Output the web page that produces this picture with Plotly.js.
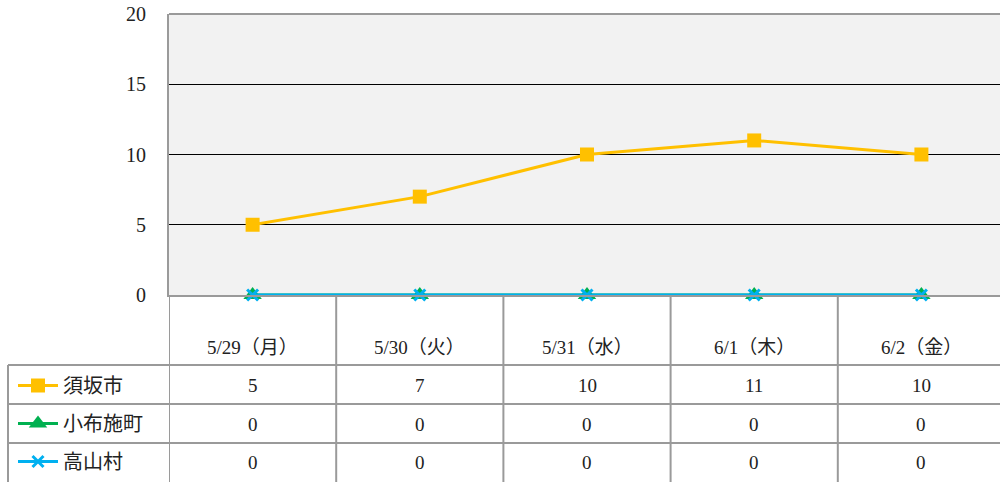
<!DOCTYPE html>
<html><head><meta charset="utf-8">
<script src="https://cdn.plot.ly/plotly-3.0.1.min.js"></script>
<style>html,body{margin:0;padding:0;background:#fff}#chart{width:1000px;height:482px}</style>
</head><body><div id="chart"></div>
<script>
const categories = ['5/29（月）','5/30（火）','5/31（水）','6/1（木）','6/2（金）'];
const seriesNames = ['須坂市','小布施町','高山村'];
const suzaka = [5, 7, 10, 11, 10];
const obuse = [0, 0, 0, 0, 0];
const takayama = [0, 0, 0, 0, 0];
const yTicks = [0, 5, 10, 15, 20];

const series = [suzaka, obuse, takayama];
const colors = ['#FFC000', '#00B050', '#00B0F0'];
const symbols = ['square', 'triangle-up', 'x-thin-open'];
const sizes = [14, 16, 11];
const idx = categories.map((c, i) => i);

const serif = '"Liberation Serif", "DejaVu Serif", "Noto Sans CJK JP", serif';
const gothic = '"Noto Sans CJK JP", sans-serif';

const traces = series.map((vals, s) => ({
  type: 'scatter', mode: 'lines+markers', name: seriesNames[s],
  x: idx, y: vals, cliponaxis: false,
  line: {color: colors[s], width: 3},
  marker: {symbol: symbols[s], size: sizes[s], color: colors[s],
           line: {width: s === 2 ? 3 : 0, color: colors[s]}},
  legendgroup: 'g' + s
}));

// pixel helpers for table layout (plot area: x 169..1000, y 14..295)
const PT = 14, PB = 295, PL = 169, PR = 1000;
const py = p => (PB - p) / (PB - PT);
const px = p => (p - PL) / (PR - PL);
const gridC = '#9a9a9a';
const shapes = [];
shapes.push({type: 'line', xref: 'paper', yref: 'paper', x0: 0, x1: 1, y0: 1, y1: 1, line: {color: gridC, width: 2}});
for (let i = 0; i <= categories.length; i++) {
  shapes.push({type: 'line', xref: 'x', yref: 'paper', x0: i - 0.5, x1: i - 0.5, y0: 0, y1: py(482), line: {color: gridC, width: 2}});
}
shapes.push({type: 'line', xref: 'paper', yref: 'paper', x0: px(8), x1: px(8), y0: py(365), y1: py(482), line: {color: gridC, width: 2}});
[365, 404, 443].forEach(r => shapes.push({type: 'line', xref: 'paper', yref: 'paper', x0: px(8), x1: 1, y0: py(r), y1: py(r), line: {color: gridC, width: 2}}));

const annotations = [];
categories.forEach((c, i) => annotations.push({xref: 'x', yref: 'paper', x: i, y: py(347), yanchor: 'middle', xanchor: 'center', text: c, showarrow: false, font: {family: serif, size: 19, color: '#222'}}));
const rowY = [385, 424, 463];
series.forEach((vals, s) => vals.forEach((v, i) => annotations.push({xref: 'x', yref: 'paper', x: i, y: py(rowY[s]), yanchor: 'middle', xanchor: 'center', text: String(v), showarrow: false, font: {family: serif, size: 19, color: '#222'}})));

const layout = {
  width: 1000, height: 482,
  margin: {l: PL, r: 0, t: PT, b: 482 - PB, pad: 0, autoexpand: false},
  paper_bgcolor: '#ffffff', plot_bgcolor: '#f2f2f2',
  showlegend: true,
  legend: {x: px(13), xanchor: 'left', y: py(366), yanchor: 'top', orientation: 'v',
           font: {family: gothic, size: 20, color: '#222'}, tracegroupgap: 9,
           bgcolor: 'rgba(0,0,0,0)', itemwidth: 40},
  xaxis: {range: [-0.5, -0.5 + (PR - PL) / 167.2], showgrid: false, zeroline: false,
          showticklabels: false, showline: true, linecolor: gridC, linewidth: 2, fixedrange: true},
  yaxis: {range: [0, 20], tickvals: yTicks, ticktext: yTicks.map(String),
          showgrid: true, gridcolor: '#000', gridwidth: 1, zeroline: false,
          showline: true, linecolor: gridC, linewidth: 2,
          ticks: 'outside', ticklen: 17, tickcolor: 'rgba(0,0,0,0)',
          tickfont: {family: serif, size: 20, color: '#222'}},
  shapes: shapes, annotations: annotations
};
Plotly.newPlot('chart', traces, layout, {staticPlot: true});
</script></body></html>
